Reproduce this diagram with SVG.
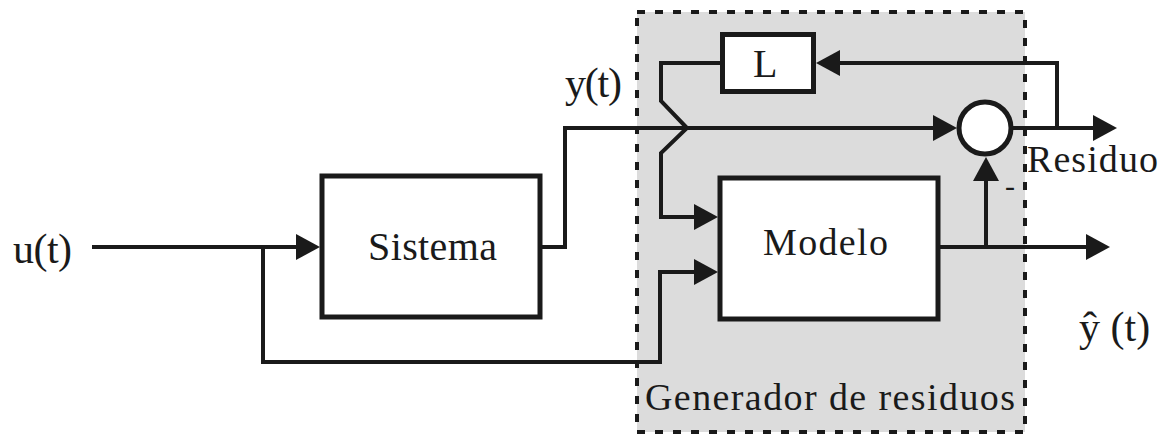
<svg xmlns="http://www.w3.org/2000/svg" width="1170" height="435" viewBox="0 0 1170 435">
<style>
.box{fill:#ffffff;stroke:#1a1a1a;stroke-width:5}
.ln{fill:none;stroke:#1a1a1a;stroke-width:4;stroke-linejoin:miter}
.arr{marker-end:url(#ah)}
.t{font-family:"Liberation Serif","Times New Roman",serif;fill:#1a1a1a}
</style>
<defs>
<marker id="ah" markerUnits="userSpaceOnUse" markerWidth="24" markerHeight="26" refX="4" refY="13" orient="auto">
<path d="M0,0 L24,13 L0,26 Z" fill="#1a1a1a"/>
</marker>
</defs>
<rect width="1170" height="435" fill="#ffffff"/>
<g id="generador">
<rect x="637" y="12" width="388" height="420" fill="#dcdcdc" stroke="#1a1a1a" stroke-width="4" stroke-dasharray="8 10"/>
<text class="t" x="645" y="410" font-size="38" textLength="370" lengthAdjust="spacing">Generador de residuos</text>
</g>
<g id="sistema">
<rect class="box" x="322" y="176" width="218" height="141"/>
<text class="t" x="368" y="260" font-size="40" textLength="129" lengthAdjust="spacing">Sistema</text>
</g>
<g id="modelo">
<rect class="box" x="720" y="178" width="218" height="141"/>
<text class="t" x="763" y="255" font-size="38" textLength="125" lengthAdjust="spacing">Modelo</text>
</g>
<g id="L">
<rect class="box" x="722.5" y="34.5" width="91" height="57"/>
<text class="t" x="753" y="77" font-size="40">L</text>
</g>
<g id="sumador">
<circle cx="985" cy="128" r="26" fill="#ffffff" stroke="#1a1a1a" stroke-width="5"/>
<text class="t" x="1005" y="196" font-size="30">-</text>
</g>
<g id="labels">
<text class="t" x="13" y="263" font-size="42" textLength="59" lengthAdjust="spacing">u(t)</text>
<text class="t" x="565" y="97" font-size="42" textLength="57" lengthAdjust="spacing">y(t)</text>
<text class="t" x="1027" y="172" font-size="38" textLength="131" lengthAdjust="spacing">Residuo</text>
<text class="t" x="1079" y="341" font-size="42" xml:space="preserve">ŷ (t)</text>
</g>
<g id="connectors">
<path class="ln arr" d="M92,247 H300"/>
<path class="ln arr" d="M263,247 V362 H660 V272 H698"/>
<path class="ln arr" d="M538,247 H565 V128 H937"/>
<path class="ln arr" d="M722,63 H661 V101 L687,128 L661,153 V217 H698"/>
<path class="ln arr" d="M1013,128 H1097"/>
<path class="ln arr" d="M1057,128 V63 H836"/>
<path class="ln arr" d="M938,247 H1090"/>
<path class="ln arr" d="M986,247 V177"/>
</g>
</svg>
